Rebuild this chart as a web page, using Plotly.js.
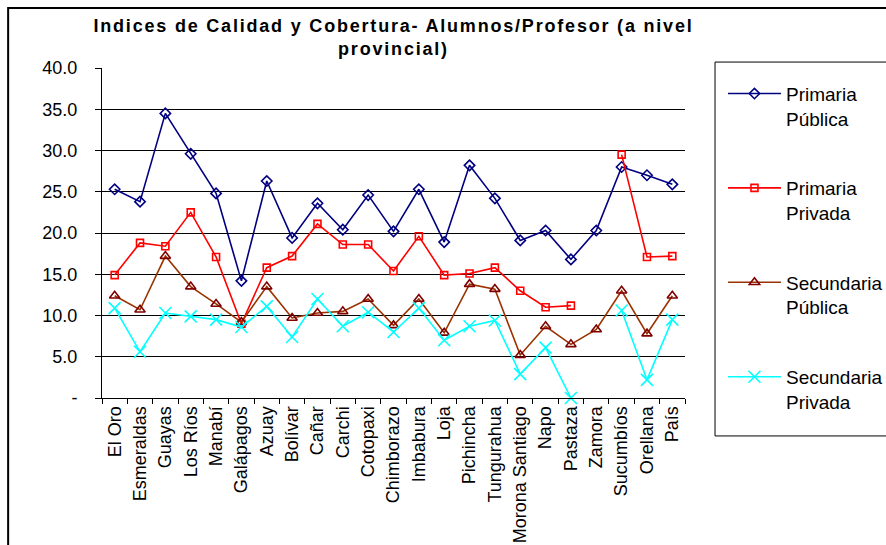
<!DOCTYPE html>
<html><head><meta charset="utf-8">
<script src="https://cdn.plot.ly/plotly-3.0.1.min.js"></script>
<style>body{margin:0;background:#fff}#c{width:886px;height:545px}.gtitle{letter-spacing:1.8px}</style>
</head><body><div id="c"></div>
<script>
const provincias = ["El Oro","Esmeraldas","Guayas","Los Ríos","Manabí","Galápagos","Azuay","Bolívar","Cañar","Carchi","Cotopaxi","Chimborazo","Imbabura","Loja","Pichincha","Tungurahua","Morona Santiago","Napo","Pastaza","Zamora","Sucumbíos","Orellana","País"];
const primariaPublica = [25.3,23.8,34.5,29.6,24.8,14.2,26.3,19.4,23.6,20.4,24.6,20.2,25.3,18.9,28.2,24.2,19.1,20.3,16.8,20.3,28.0,27.0,25.9];
const primariaPrivada = [14.9,18.8,18.4,22.5,17.1,9.0,15.8,17.2,21.1,18.6,18.6,15.4,19.6,14.9,15.1,15.8,13.0,11.0,11.2,null,29.5,17.1,17.2];
const secundariaPublica = [12.4,10.7,17.2,13.5,11.4,9.2,13.5,9.7,10.3,10.5,12.0,8.8,12.0,7.9,13.8,13.2,5.2,8.7,6.5,8.3,13.0,7.8,12.4];
const secundariaPrivada = [10.9,5.6,10.3,9.9,9.5,8.6,11.1,7.4,12.0,8.7,10.4,8.0,10.9,7.0,8.7,9.4,2.9,6.1,0.0,null,10.6,2.2,9.5];
const yTickVals = [0,5,10,15,20,25,30,35,40];
const yTickText = ["-","5.0","10.0","15.0","20.0","25.0","30.0","35.0","40.0"];
const seriesNames = ["Primaria<br>Pública","Primaria<br>Privada","Secundaria<br>Pública","Secundaria<br>Privada"];

const F = "Liberation Sans, Arial, sans-serif";
function tr(y, name, lineColor, symbol, mColor, size, grp){
  return {x: provincias, y: y, name: name, type: 'scatter', mode: 'lines+markers',
    line: {color: lineColor, width: 1.6}, cliponaxis: false, legendgroup: grp,
    marker: {symbol: symbol, size: size, color: mColor, line: {color: mColor, width: 1.6}}};
}
const data = [
  tr(primariaPublica, seriesNames[0], '#000080', 'diamond-open', '#000080', 8, 'a'),
  tr(primariaPrivada, seriesNames[1], '#FF0000', 'square-open', '#FF0000', 7, 'b'),
  tr(secundariaPublica, seriesNames[2], '#993300', 'triangle-up-open', '#800000', 9, 'c'),
  tr(secundariaPrivada, seriesNames[3], '#00FFFF', 'x-thin-open', '#00FFFF', 12, 'd')
];
const layout = {
  width: 886, height: 545,
  margin: {l: 102, r: 201, t: 68, b: 147, autoexpand: false},
  paper_bgcolor: '#fff', plot_bgcolor: '#fff',
  font: {family: F, color: '#000', size: 14},
  title: {text: "<b>Indices de Calidad y Cobertura- Alumnos/Profesor (a nivel<br>provincial)</b>",
    font: {family: F, size: 18, color: '#000'}, x: 0.5, xref: 'paper', xanchor: 'center',
    y: 0.942, yref: 'container', yanchor: 'top'},
  xaxis: {type: 'category', range: [-0.5, 22.5], tickangle: -90, ticks: 'outside', tickson: 'boundaries', ticklen: 5,
    tickcolor: '#000', showline: true, linecolor: '#000', linewidth: 1, showgrid: false,
    tickfont: {family: F, size: 18, color: '#000'}, fixedrange: true},
  yaxis: {range: [0, 40], tickvals: yTickVals, ticktext: yTickText, ticks: 'outside', ticklen: 6,
    ticklabelstandoff: 14,
    tickcolor: '#000', showline: true, linecolor: '#000', linewidth: 1, showgrid: true,
    gridcolor: '#000', gridwidth: 1, zeroline: false, tickfont: {family: F, size: 18, color: '#000'},
    fixedrange: true},
  legend: {xref: 'container', yref: 'container', x: 0.816, xanchor: 'left', y: 0.863, yanchor: 'top',
    traceorder: 'grouped', valign: 'top', maxheight: 420,
    tracegroupgap: 42, font: {family: F, size: 19, color: '#000'}, bgcolor: 'rgba(0,0,0,0)',
    itemwidth: 53},
  shapes: [
    {type: 'rect', xref: 'paper', yref: 'paper', x0: -0.161, x1: 1.4, y0: -0.5, y1: 1.1818,
      line: {color: '#000', width: 2}, fillcolor: 'rgba(0,0,0,0)', layer: 'below'},
    {type: 'rect', xref: 'paper', yref: 'paper', x0: 1.0515, x1: 1.4, y0: -0.115, y1: 1.018,
      line: {color: '#000', width: 1}, fillcolor: 'rgba(0,0,0,0)', layer: 'below'}
  ]
};
Plotly.newPlot('c', data, layout, {displayModeBar: false, staticPlot: true});
</script></body></html>
